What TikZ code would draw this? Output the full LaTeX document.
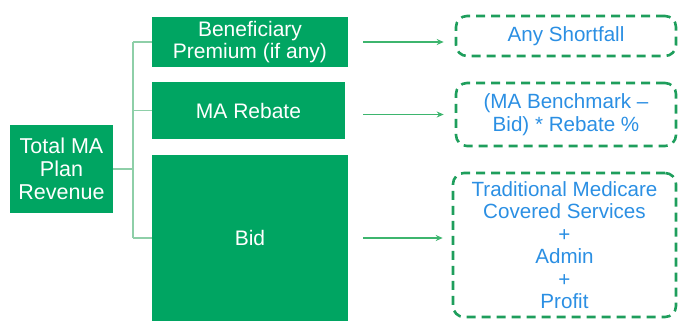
\documentclass[tikz,border=0pt]{standalone}
\usepackage{fontspec}
\setmainfont{Liberation Sans}
\usetikzlibrary{calc,arrows.meta}
\definecolor{boxgreen}{HTML}{00A562}
\definecolor{dashgreen}{HTML}{1E9E5C}
\definecolor{arrowgreen}{HTML}{3DB56E}
\definecolor{treegreen}{HTML}{8ECFA8}
\definecolor{textblue}{HTML}{2B8FE3}
\begin{document}
\begin{tikzpicture}[x=1pt,y=-1pt,
  solidbox/.style={fill=boxgreen, draw=none, inner sep=0pt, text=white, align=center,
    font=\fontsize{21}{22}\selectfont},
  dashbox/.style={draw=dashgreen, line width=2.6pt, dash pattern=on 9pt off 6pt,
    rounded corners=11pt, inner sep=0pt, text=textblue, align=center,
    font=\fontsize{20.6}{22.5}\selectfont},
  tree/.style={draw=treegreen, line width=1.8pt},
  arr/.style={draw=arrowgreen, line width=1.4pt, -{Stealth[length=7pt,width=6pt]}}]
  \useasboundingbox (0,0) rectangle (681,321);

  % left source box and the three revenue parts
  \node[solidbox, minimum width=103pt, minimum height=88pt,
        font=\fontsize{21.5}{23}\selectfont] (total) at (61.5,169) {Total MA\\Plan\\Revenue};
  \node[solidbox, minimum width=196pt, minimum height=50pt] (benef) at (250,42)
        {Beneficiary\\Premium (if any)};
  \node[solidbox, minimum width=193pt, minimum height=57pt] (rebate) at (248.5,110.5)
        {MA Rebate};
  \node[solidbox, minimum width=196pt, minimum height=166pt] (bid) at (250,238) {Bid};

  % dashed explanation boxes
  \node[dashbox, minimum width=220pt, minimum height=40pt] (short) at (566,36) {Any Shortfall};
  \node[dashbox, minimum width=220pt, minimum height=63pt] (bench) at (566,114.5)
        {(MA Benchmark –\\Bid) * Rebate \%};
  \node[dashbox, minimum width=223pt, minimum height=144pt] (trad) at (564.5,245)
        {Traditional Medicare\\Covered Services\\+\\Admin\\+\\Profit};

  % bracket joining the total to its parts
  \coordinate (trunk) at (133,169);
  \draw[tree] (total.east) -- (trunk);
  \draw[tree] (benef.west -| trunk) -- (bid.west -| trunk);
  \draw[tree] (benef.west -| trunk) -- (benef.west);
  \draw[tree] (rebate.west -| trunk) -- (rebate.west);
  \draw[tree] (bid.west -| trunk) -- (bid.west);

  % arrows to the explanations
  \draw[arr] ($(benef.east)+(15,0)$) -- ($(benef.east -| short.west)+(-11,0)$);
  \draw[arr] ($(bench.west -| rebate.east)+(18,0)$) -- ($(bench.west)+(-11,0)$);
  \draw[arr] ($(bid.east)+(15,0)$) -- ($(bid.east -| trad.west)+(-9,0)$);
\end{tikzpicture}
\end{document}
